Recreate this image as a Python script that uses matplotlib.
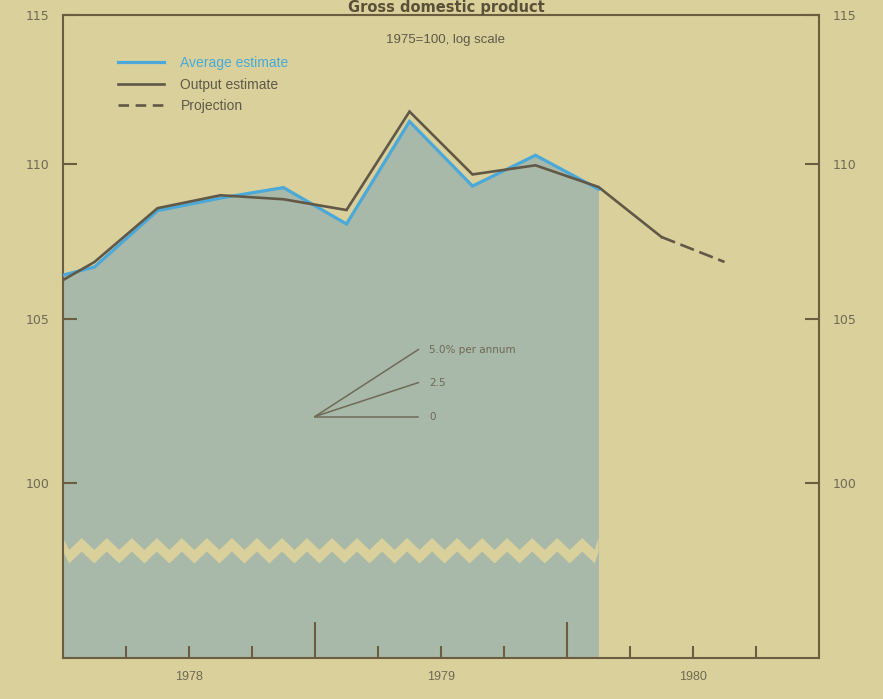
import numpy as np
import matplotlib
matplotlib.use("Agg")
import matplotlib.pyplot as plt
from matplotlib.lines import Line2D
from matplotlib.patches import Polygon
from matplotlib.ticker import NullLocator
import matplotlib.transforms as mtransforms

# ---------------- data (quarterly, 1975 = 100) ----------------
quarters_output = [1977.875, 1978.125, 1978.375, 1978.625, 1978.875,
                   1979.125, 1979.375, 1979.625, 1979.875, 1980.125, 1980.375]
output_estimate = [105.67, 106.82, 108.55, 108.97, 108.84,
                   108.49, 111.73, 109.65, 109.95, 109.24, 107.62]

quarters_projection = [1980.375, 1980.625]
projection = [107.62, 106.82]

quarters_average = [1977.875, 1978.125, 1978.375, 1978.625, 1978.875,
                    1979.125, 1979.375, 1979.625, 1979.875, 1980.125]
average_estimate = [106.14, 106.66, 108.47, 108.88, 109.22,
                    108.04, 111.40, 109.27, 110.28, 109.17]

y_ticks = [100, 105, 110, 115]
y_tick_labels = ["100", "105", "110", "115"]
year_boundaries = [1979, 1980]
quarter_ticks = [1978.25, 1978.5, 1978.75, 1979.25, 1979.5, 1979.75,
                 1980.25, 1980.5, 1980.75]
quarter_labels = ["", "1978", "", "", "1979", "", "", "1980", ""]

growth_rates = [5.0, 2.5, 0.0]
growth_labels = ["5.0% per annum", "2.5", "0"]
fan_origin_x, fan_origin_y, fan_length = 1979.0, 102.0, 0.41

# ---------------- style ----------------
BG = "#d9d09b"
FILL = "#a8b9a9"
BLUE = "#4aa9d9"
DARK = "#625847"
FRAME = "#6b5d3f"
TXT = "#6e6a55"

fig = plt.figure(figsize=(8.83, 6.99), dpi=100)
fig.patch.set_facecolor(BG)
W, H = 883, 699
ax = fig.add_axes([63 / W, 1 - 658 / H, (819 - 63) / W, (658 - 15) / H])
ax.set_facecolor(BG)

ax.set_yscale("log")
ymin, ymax = 94.9, 115
ax.set_ylim(ymin, ymax)
ax.set_xlim(1978, 1981)

# shaded area under the average estimate
ax.fill_between(quarters_average, average_estimate, ymin, color=FILL,
                linewidth=0, zorder=1)

# scale-break zigzag across the shaded area
trans = mtransforms.blended_transform_factory(ax.transData, ax.transAxes)
x_end = quarters_average[-1]
half = 0.0993 / 2
xs = np.arange(1978.0 - half * 0.5, x_end + half, half)
xs = np.clip(xs, 1978.0, x_end)
up = np.where(np.arange(len(xs)) % 2 == 0, 0.1866, 0.168)
lo = up - 0.021
poly = np.vstack([np.column_stack([xs, up]),
                  np.column_stack([xs[::-1], lo[::-1]])])
ax.add_patch(Polygon(poly, closed=True, transform=trans, facecolor=BG,
                     edgecolor="none", zorder=1.5))

# lines
ax.plot(quarters_average, average_estimate, color=BLUE, lw=2.3, zorder=3,
        solid_joinstyle="miter")
ax.plot(quarters_output, output_estimate, color=DARK, lw=1.9, zorder=4,
        solid_joinstyle="miter")
dash = (0, (5.5, 2.2))
ax.plot(quarters_projection, projection, color=DARK, lw=1.9, zorder=4,
        linestyle=dash)

# growth-rate fan
for r, lab in zip(growth_rates, growth_labels):
    y_end = fan_origin_y * (1 + r / 100) ** fan_length
    ax.plot([fan_origin_x, fan_origin_x + fan_length], [fan_origin_y, y_end],
            color="#6f6b58", lw=1.1, zorder=3)
    ax.text(fan_origin_x + fan_length + 0.044, y_end, lab, fontsize=7.5,
            color=TXT, va="center", ha="left", family="DejaVu Sans")

# frame
for s in ax.spines.values():
    s.set_color(FRAME)
    s.set_linewidth(1.5)

# y ticks both sides, inward
ax.yaxis.set_minor_locator(NullLocator())
ax.set_yticks(y_ticks, y_tick_labels)
ax.tick_params(axis="y", which="major", direction="in", length=10, width=1.5,
               color=FRAME, left=True, right=True, labelleft=True,
               labelright=True, pad=10, labelsize=9, labelcolor=TXT)
for t in ax.get_yticklabels():
    t.set_family("DejaVu Sans")

# x ticks: tall year boundaries, short quarters, labels at mid-year
ax.set_xticks(year_boundaries, ["", ""])
ax.set_xticks(quarter_ticks, quarter_labels, minor=True)
ax.tick_params(axis="x", which="major", direction="in", length=26, width=1.5,
               color=FRAME)
ax.tick_params(axis="x", which="minor", direction="in", length=9, width=1.5,
               color=FRAME, pad=9, labelsize=9, labelcolor=TXT)
for t in ax.get_xticklabels(minor=True):
    t.set_family("Liberation Sans")

# legend
handles = [Line2D([], [], color=BLUE, lw=2.3),
           Line2D([], [], color=DARK, lw=1.9),
           Line2D([], [], color=DARK, lw=1.9, linestyle=(0, (4, 2.5)))]
labels = ["Average estimate", "Output estimate", "Projection"]
leg = ax.legend(handles, labels, loc="upper left",
                bbox_to_anchor=((118 - 63) / 756, (658 - 56) / 643),
                frameon=False, borderpad=0, borderaxespad=0,
                handlelength=3.3, handletextpad=1.2, labelspacing=0.55,
                prop={"family": "Liberation Sans", "size": 10})
for txt, c in zip(leg.get_texts(), [BLUE, "#5f5a48", "#5f5a48"]):
    txt.set_color(c)

# titles
fig.text(446 / W, 1 - 12 / H, "Gross domestic product", ha="center",
         va="baseline", fontsize=10.5, fontweight="bold", color="#5a5038",
         family="DejaVu Sans")
fig.text(445 / W, 1 - 40 / H, "1975=100, log scale", ha="center",
         va="center", fontsize=9.5, color="#5f5a48", family="Liberation Sans")

fig.savefig("out.png", dpi=100, facecolor=BG)
